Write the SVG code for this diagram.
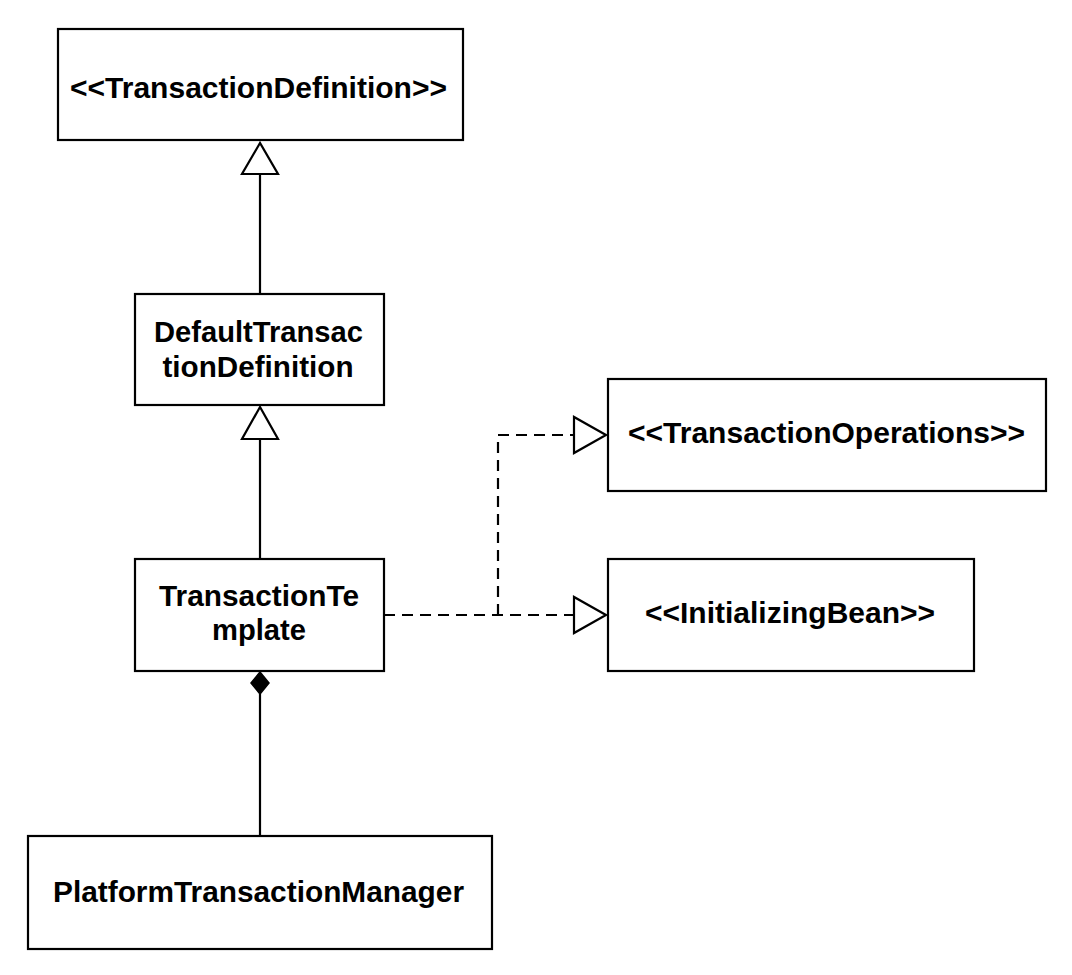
<svg xmlns="http://www.w3.org/2000/svg" width="1072" height="975" viewBox="0 0 1072 975">
<style>
.box{fill:#fff;stroke:#000;stroke-width:2.2}
.t{font-family:"Liberation Sans",Arial,Helvetica,sans-serif;font-weight:bold;font-size:29.5px;fill:#000;text-anchor:middle}
.ln{fill:none;stroke:#000;stroke-width:2.2}
.dash{fill:none;stroke:#000;stroke-width:2.2;stroke-dasharray:11 7}
.tri{fill:#fff;stroke:#000;stroke-width:2.2;stroke-linejoin:miter}
.dia{fill:#000;stroke:#000;stroke-width:1.5}
</style>
<rect width="1072" height="975" fill="#fff"/>
<g id="connectors">
  <line class="ln" x1="260" y1="174" x2="260" y2="294"/>
  <polygon class="tri" points="260,143 242,174 278,174"/>
  <line class="ln" x1="260" y1="439" x2="260" y2="559"/>
  <polygon class="tri" points="260,407 242,439 278,439"/>
  <line class="ln" x1="260" y1="694" x2="260" y2="836"/>
  <polygon class="dia" points="260,672 269,683 260,694 251,683"/>
  <polyline class="dash" points="384,615 574,615"/>
  <polyline class="dash" points="498,615 498,435 574,435"/>
  <polygon class="tri" points="606,615 574,597 574,633"/>
  <polygon class="tri" points="606,435 574,417 574,453"/>
</g>
<g id="TransactionDefinition">
  <rect class="box" x="58" y="29" width="405" height="111"/>
  <text class="t" x="258.5" y="98" textLength="377" lengthAdjust="spacingAndGlyphs">&lt;&lt;TransactionDefinition&gt;&gt;</text>
</g>
<g id="DefaultTransactionDefinition">
  <rect class="box" x="135" y="294" width="249" height="111"/>
  <text class="t" x="258.5" y="342" textLength="209" lengthAdjust="spacingAndGlyphs">DefaultTransac</text>
  <text class="t" x="258" y="377" textLength="191" lengthAdjust="spacingAndGlyphs">tionDefinition</text>
</g>
<g id="TransactionTemplate">
  <rect class="box" x="135" y="559" width="249" height="112"/>
  <text class="t" x="259" y="606" textLength="200" lengthAdjust="spacingAndGlyphs">TransactionTe</text>
  <text class="t" x="259" y="640" textLength="94" lengthAdjust="spacingAndGlyphs">mplate</text>
</g>
<g id="PlatformTransactionManager">
  <rect class="box" x="28" y="836" width="464" height="113"/>
  <text class="t" x="258.5" y="902" textLength="411" lengthAdjust="spacingAndGlyphs">PlatformTransactionManager</text>
</g>
<g id="TransactionOperations">
  <rect class="box" x="608" y="379" width="438" height="112"/>
  <text class="t" x="826.5" y="443" textLength="397" lengthAdjust="spacingAndGlyphs">&lt;&lt;TransactionOperations&gt;&gt;</text>
</g>
<g id="InitializingBean">
  <rect class="box" x="608" y="559" width="366" height="112"/>
  <text class="t" x="790" y="623" textLength="290" lengthAdjust="spacingAndGlyphs">&lt;&lt;InitializingBean&gt;&gt;</text>
</g>
</svg>
